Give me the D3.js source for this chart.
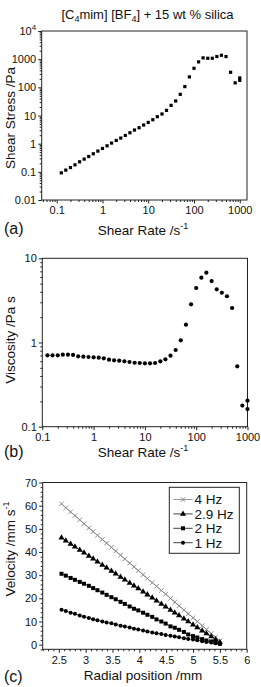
<!DOCTYPE html>
<html><head><meta charset="utf-8">
<script src="https://cdn.jsdelivr.net/npm/d3@7"></script>
<style>
body{margin:0;background:#fff}
svg{display:block}
text{font-family:"Liberation Sans",Arial,Helvetica,sans-serif;fill:#111}
</style>
</head><body>
<svg id="chart" width="261" height="687"></svg>
<script>
// ---------- data ----------
const shearRate = [0.126,0.158,0.2,0.251,0.316,0.398,0.501,0.631,0.794,1,1.26,1.58,2,2.51,3.16,3.98,5.01,6.31,7.94,10,12.6,15.8,20,25.1,31.6,39.8,50.1,63.1,79.4,100,126,158,200,251,316,398,501,631,794,1000,1000];
const shearStress = [0.092,0.115,0.142,0.177,0.227,0.283,0.350,0.437,0.545,0.675,0.84,1.05,1.30,1.58,1.96,2.44,3.05,3.68,4.59,5.68,7.09,9.06,11.3,15.2,22.9,32.8,56.4,106,234,474,802,1112,1077,1077,1238,1377,1238,342,144,216,177];
const viscosity = [0.705,0.705,0.705,0.716,0.716,0.711,0.686,0.678,0.673,0.667,0.660,0.649,0.625,0.615,0.608,0.598,0.587,0.575,0.571,0.566,0.566,0.571,0.598,0.631,0.697,0.815,1.06,1.63,2.84,4.44,5.89,6.75,5.37,4.28,3.90,3.54,2.57,0.521,0.178,0.204,0.162];

const radialPos = [2.55,2.63,2.72,2.80,2.89,2.97,3.06,3.14,3.22,3.31,3.39,3.48,3.56,3.65,3.73,3.82,3.90,3.98,4.07,4.15,4.24,4.32,4.41,4.49,4.58,4.66,4.74,4.83,4.91,5.00,5.08,5.17,5.25,5.34,5.42,5.50];
const vel4Hz  = [60.8,59.1,57.3,55.7,53.9,52.2,50.4,48.8,47.2,45.4,43.8,42.0,40.4,38.6,37.0,35.2,33.6,32.0,30.2,28.6,26.8,25.2,23.4,21.8,20.0,18.4,16.8,15.0,13.4,11.6,10.0,8.2,6.6,4.8,3.2,1.6];
const vel29Hz = [46.2,44.9,43.5,42.3,40.9,39.7,38.3,37.1,35.8,34.4,33.2,31.8,30.6,29.2,28.0,26.6,25.4,24.2,22.8,21.6,20.2,19.0,17.6,16.4,15.0,13.8,12.6,11.2,10.0,8.6,7.4,6.0,4.8,3.5,2.2,1.0];
const vel2Hz  = [30.6,29.8,28.8,28.0,27.1,26.3,25.4,24.4,23.5,22.5,21.5,20.5,19.6,18.5,17.6,16.5,15.5,14.8,13.8,12.9,12.0,10.9,10.0,9.1,7.9,7.3,6.4,5.5,4.4,3.7,3.1,2.4,1.8,1.4,0.9,0.4];
const vel1Hz  = [15.1,14.5,13.8,13.3,12.6,12.1,11.5,11.0,10.5,10.0,9.6,9.2,8.7,8.2,7.8,7.4,6.9,6.6,6.1,5.7,5.3,4.9,4.6,4.2,3.8,3.5,3.2,2.8,2.5,2.2,1.9,1.5,1.2,0.9,0.6,0.3];
const seriesNames = ["4 Hz","2.9 Hz","2 Hz","1 Hz"];

const ticksAx = [0.1,1,10,100,1000];
const ticksAy = [0.01,0.1,1,10,100,1000,10000];
const ticksBx = [0.1,1,10,100,1000];
const ticksBy = [0.1,1,10];
const ticksCx = [2.5,3,3.5,4,4.5,5,5.5,6];
const ticksCy = [0,10,20,30,40,50,60,70];

// ---------- layout ----------
const svg = d3.select("#chart");
const FONT = '"Liberation Sans",Arial,Helvetica,sans-serif';

const xA = d3.scaleLog().domain([0.047,1440]).range([41.7,247]);
const yA = d3.scaleLog().domain([0.01,10000]).range([200,31]);
const xB = d3.scaleLog().domain([0.1,1000]).range([42.3,247.5]);
const yB = d3.scaleLog().domain([0.1,10]).range([426.7,258.3]);
const xC = d3.scaleLinear().domain([2.2,6]).range([42.7,246.7]);
const yC = d3.scaleLinear().domain([-2,70]).range([649.3,482.5]);

function logMinor(scale){
  const [a,b] = scale.domain();
  const out = [];
  for(let e=Math.floor(Math.log10(a)); e<=Math.ceil(Math.log10(b)); e++){
    for(let m=2;m<=9;m++){ const v=m*Math.pow(10,e); if(v>=a && v<=b) out.push(v); }
  }
  return out;
}
function linMinor(scale, step, majors){
  const [a,b] = scale.domain();
  const out=[];
  for(let v=Math.ceil(a/step)*step; v<=b+1e-9; v+=step){
    const r=Math.round(v*1000)/1000;
    if(!majors.some(m=>Math.abs(m-r)<1e-6)) out.push(r);
  }
  return out;
}

function styleAxis(g){
  g.select(".domain").remove();
  g.selectAll("line").attr("stroke","#222").attr("stroke-width",1);
  g.selectAll("text").attr("font-size",11).attr("font-family",FONT).attr("fill","#111");
}

function panel(x, y, xMaj, xMin, yMaj, yMin, xFmt, yFmt){
  const [x0,x1] = x.range(), [y0,y1] = y.range();
  const gx = svg.append("g").attr("transform",`translate(0,${y0})`)
    .call(d3.axisBottom(x).tickValues(xMaj).tickSize(3.5).tickPadding(3).tickFormat(xFmt));
  styleAxis(gx);
  const gxm = svg.append("g").attr("transform",`translate(0,${y0})`)
    .call(d3.axisBottom(x).tickValues(xMin).tickSize(2).tickFormat(""));
  styleAxis(gxm);
  const gy = svg.append("g").attr("transform",`translate(${x0},0)`)
    .call(d3.axisLeft(y).tickValues(yMaj).tickSize(3.5).tickPadding(2).tickFormat(yFmt));
  styleAxis(gy);
  const gym = svg.append("g").attr("transform",`translate(${x0},0)`)
    .call(d3.axisLeft(y).tickValues(yMin).tickSize(2).tickFormat(""));
  styleAxis(gym);
  svg.append("rect").attr("x",x0).attr("y",y1).attr("width",x1-x0).attr("height",y0-y1)
    .attr("fill","none").attr("stroke","#222").attr("stroke-width",1);
  return {gx, gy};
}

const numFmt = d => String(d);

// ---------- title ----------
const title = svg.append("text").attr("x",147.5).attr("y",19).attr("text-anchor","middle")
  .attr("font-size",13);
title.append("tspan").text("[C");
title.append("tspan").attr("font-size",9).attr("dy",3).text("4");
title.append("tspan").attr("dy",-3).text("mim] [BF");
title.append("tspan").attr("font-size",9).attr("dy",3).text("4");
title.append("tspan").attr("dy",-3).text("] + 15 wt % silica");

// ---------- panel (a) ----------
const pa = panel(xA, yA, ticksAx, logMinor(xA), ticksAy, logMinor(yA), numFmt, numFmt);
pa.gy.selectAll(".tick text").each(function(d){
  if(d===10000){
    const t=d3.select(this); t.text("");
    t.append("tspan").text("10");
    t.append("tspan").attr("font-size",8).attr("dy",-5).text("4");
  }
});
svg.append("g").selectAll("rect").data(shearRate.map((r,i)=>[r,shearStress[i]])).join("rect")
  .attr("x",d=>xA(d[0])-1.6).attr("y",d=>yA(d[1])-1.6).attr("width",3.2).attr("height",3.2)
  .attr("fill","#000");

function xTitle(yb, label){
  const t = svg.append("text").attr("x",143).attr("y",yb).attr("text-anchor","middle").attr("font-size",13.5);
  t.append("tspan").text(label);
  t.append("tspan").attr("font-size",9).attr("dy",-6).text("-1");
}
xTitle(235, "Shear Rate /s");
svg.append("text").attr("x",4).attr("y",234).attr("font-size",16).text("(a)");
svg.append("text").attr("transform","translate(15,118) rotate(-90)").attr("text-anchor","middle")
  .attr("font-size",13.5).text("Shear Stress /Pa");

// ---------- panel (b) ----------
panel(xB, yB, ticksBx, logMinor(xB), ticksBy, logMinor(yB), numFmt, numFmt);
svg.append("g").selectAll("circle").data(shearRate.map((r,i)=>[r,viscosity[i]])).join("circle")
  .attr("cx",d=>xB(d[0])).attr("cy",d=>yB(d[1])).attr("r",2.1).attr("fill","#000");
xTitle(457, "Shear Rate /s");
svg.append("text").attr("x",4).attr("y",457).attr("font-size",16).text("(b)");
svg.append("text").attr("transform","translate(15,340) rotate(-90)").attr("text-anchor","middle")
  .attr("font-size",13.5).text("Viscosity /Pa s");

// ---------- panel (c) ----------
panel(xC, yC, ticksCx, linMinor(xC,0.1,ticksCx), ticksCy, linMinor(yC,2,ticksCy), numFmt, numFmt);

const series = [
  {name:seriesNames[0], v:vel4Hz,  marker:"cross",    line:"#808080", color:"#808080"},
  {name:seriesNames[1], v:vel29Hz, marker:"triangle", line:"#111", color:"#000"},
  {name:seriesNames[2], v:vel2Hz,  marker:"square",   line:"#111", color:"#000"},
  {name:seriesNames[3], v:vel1Hz,  marker:"circle",   line:"#111", color:"#000"}
];
function drawMarker(g, type, cx, cy, color){
  if(type==="cross"){
    g.append("path").attr("d",`M${cx-2.3},${cy-2.3}L${cx+2.3},${cy+2.3}M${cx-2.3},${cy+2.3}L${cx+2.3},${cy-2.3}`)
      .attr("stroke",color).attr("stroke-width",0.9).attr("fill","none");
  } else if(type==="triangle"){
    g.append("path").attr("d",d3.symbol().type(d3.symbolTriangle).size(16)()).attr("transform",`translate(${cx},${cy})`).attr("fill",color);
  } else if(type==="square"){
    g.append("rect").attr("x",cx-2).attr("y",cy-2).attr("width",4).attr("height",4).attr("fill",color);
  } else {
    g.append("circle").attr("cx",cx).attr("cy",cy).attr("r",2).attr("fill",color);
  }
}
const lineGen = d3.line().x(d=>xC(d[0])).y(d=>yC(d[1]));
series.forEach(s=>{
  const pts = radialPos.map((r,i)=>[r,s.v[i]]);
  svg.append("path").attr("d",lineGen(pts)).attr("fill","none").attr("stroke",s.line).attr("stroke-width",0.8);
  const g = svg.append("g");
  pts.forEach(p=>drawMarker(g, s.marker, xC(p[0]), yC(p[1]), s.color));
});

// legend
svg.append("rect").attr("x",169.3).attr("y",487.3).attr("width",70).attr("height",66)
  .attr("fill","#fff").attr("stroke","#222").attr("stroke-width",1);
series.forEach((s,i)=>{
  const cy = 499.5 + i*14.4;
  svg.append("line").attr("x1",173.3).attr("x2",192.7).attr("y1",cy).attr("y2",cy)
    .attr("stroke",s.line).attr("stroke-width",0.8);
  drawMarker(svg.append("g"), s.marker, 183, cy, s.color);
  svg.append("text").attr("x",194.5).attr("y",cy+4.8).attr("font-size",13.5).text(s.name);
});

const tc = svg.append("text").attr("x",143).attr("y",680).attr("text-anchor","middle").attr("font-size",13.5).text("Radial position /mm");
svg.append("text").attr("x",4).attr("y",682).attr("font-size",16).text("(c)");
const vt = svg.append("text").attr("transform","translate(15,549) rotate(-90)").attr("text-anchor","middle").attr("font-size",13.5);
vt.append("tspan").text("Velocity /mm s");
vt.append("tspan").attr("font-size",9).attr("dy",-6).text("-1");
</script>
</body></html>
